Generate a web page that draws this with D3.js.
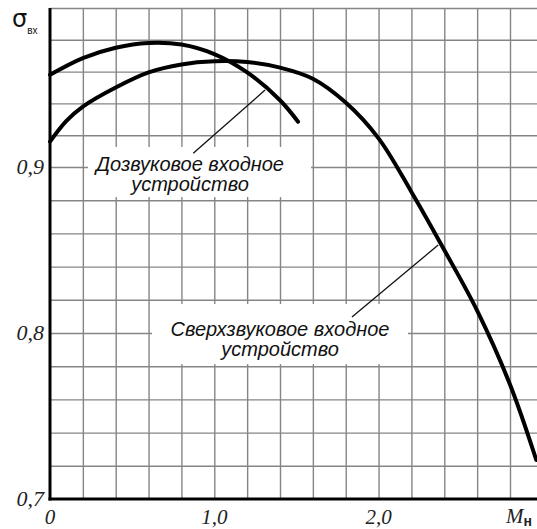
<!DOCTYPE html>
<html>
<head>
<meta charset="utf-8">
<script src="https://cdn.jsdelivr.net/npm/d3@7"></script>
<style>
  html, body { margin: 0; padding: 0; background: #fff; }
  svg { display: block; }
</style>
</head>
<body>
<script>
// ---- data ----
const machSuper  = [0, 0.1, 0.2, 0.4, 0.6, 0.8, 1.0, 1.2, 1.4, 1.6, 1.8, 2.0, 2.2, 2.4, 2.6, 2.8, 2.96];
const sigmaSuper = [0.916, 0.929, 0.938, 0.950, 0.9595, 0.9645, 0.9665, 0.966, 0.9625, 0.9555, 0.9405, 0.918, 0.885, 0.850, 0.8135, 0.769, 0.7235];

const machSub  = [0, 0.2, 0.4, 0.6, 0.8, 1.0, 1.2, 1.4, 1.51];
const sigmaSub = [0.958, 0.9685, 0.975, 0.978, 0.977, 0.971, 0.9595, 0.942, 0.9285];

const xGridValues = [0.2, 0.4, 0.6, 0.8, 1.0, 1.2, 1.4, 1.6, 1.8, 2.0, 2.2, 2.4, 2.6, 2.8, 3.0];
const yGridValues = [0.72, 0.74, 0.76, 0.78, 0.80, 0.82, 0.84, 0.86, 0.88, 0.90, 0.92, 0.94, 0.96, 0.98, 1.00];
const xTickValues = [0, 1, 2];
const xTickLabels = ["0", "1,0", "2,0"];
const yTickValues = [0.7, 0.8, 0.9];
const yTickLabels = ["0,7", "0,8", "0,9"];

const label1Lines = ["Дозвуковое входное", "устройство"];
const label2Lines = ["Сверхзвуковое входное", "устройство"];

// ---- layout ----
const W = 537, H = 529;
const x = d3.scaleLinear().domain([0, 2.8]).range([50, 510]);
const y = d3.scaleLinear().domain([0.7, 0.9, 1.0]).range([499, 167, 8]);
const xMaxPx = W;

const svg = d3.select("body").append("svg")
  .attr("width", W).attr("height", H)
  .attr("viewBox", `0 0 ${W} ${H}`);

svg.append("rect").attr("width", W).attr("height", H).attr("fill", "#fff");

// grid (vertical)
const gx = svg.append("g").attr("transform", `translate(0,${y(0.7)})`)
  .call(d3.axisBottom(x).tickValues(xGridValues).tickSize(-(y(0.7) - y(1.0))).tickFormat(""));
gx.select(".domain").remove();
gx.selectAll(".tick line").attr("stroke", "#858585").attr("stroke-width", 1.4);

// grid (horizontal)
const gy = svg.append("g").attr("transform", `translate(${x(0)},0)`)
  .call(d3.axisLeft(y).tickValues(yGridValues).tickSize(-(xMaxPx - x(0))).tickFormat(""));
gy.select(".domain").remove();
gy.selectAll(".tick line").attr("stroke", "#858585").attr("stroke-width", 1.4);

// label background boxes (data units)
const boxes = [
  { m0: 0.231, m1: 1.589, s0: 0.9126, s1: 0.8819 },
  { m0: 0.621, m1: 2.179, s0: 0.8175, s1: 0.7813 }
];
svg.selectAll("rect.box").data(boxes).enter().append("rect")
  .attr("class", "box")
  .attr("x", d => x(d.m0)).attr("width", d => x(d.m1) - x(d.m0))
  .attr("y", d => y(d.s0)).attr("height", d => y(d.s1) - y(d.s0))
  .attr("fill", "#fff");

// axes lines
svg.append("line")
  .attr("x1", x(0)).attr("x2", x(0)).attr("y1", y(1.0)).attr("y2", y(0.7) + 1.5)
  .attr("stroke", "#000").attr("stroke-width", 3);
svg.append("line")
  .attr("x1", x(0) - 1.5).attr("x2", xMaxPx).attr("y1", y(0.7)).attr("y2", y(0.7))
  .attr("stroke", "#000").attr("stroke-width", 3);

// curves
const line = d3.line().x(d => x(d[0])).y(d => y(d[1])).curve(d3.curveCatmullRom.alpha(0.5));
const superPts = machSuper.map((m, i) => [m, sigmaSuper[i]]);
const subPts = machSub.map((m, i) => [m, sigmaSub[i]]);

svg.append("path").attr("d", line(superPts))
  .attr("fill", "none").attr("stroke", "#000").attr("stroke-width", 4).attr("stroke-linecap", "round");
svg.append("path").attr("d", line(subPts))
  .attr("fill", "none").attr("stroke", "#000").attr("stroke-width", 4).attr("stroke-linecap", "round");

// leader lines
const leaders = [
  { m0: 0.872, s0: 0.9086, m1: 1.309, s1: 0.9484 },
  { m0: 1.838, s0: 0.8096, m1: 2.363, s1: 0.853 }
];
svg.selectAll("line.leader").data(leaders).enter().append("line")
  .attr("class", "leader")
  .attr("x1", d => x(d.m0)).attr("y1", d => y(d.s0))
  .attr("x2", d => x(d.m1)).attr("y2", d => y(d.s1))
  .attr("stroke", "#111").attr("stroke-width", 1.3);

// annotation text (one text element per line)
function addLabel(lines, m, s, gap) {
  lines.forEach((l, i) => {
    svg.append("text")
      .attr("x", x(m)).attr("y", y(s) + i * gap)
      .attr("text-anchor", "middle")
      .attr("font-family", "'Liberation Sans', Arial, sans-serif")
      .attr("font-style", "italic")
      .attr("font-size", 20)
      .attr("fill", "#111")
      .text(l);
  });
}
addLabel(label1Lines, 0.852, 0.8976, 20.5);
addLabel(label2Lines, 1.40, 0.798, 20);

// tick labels
const serif = "'Liberation Serif', 'Times New Roman', serif";
svg.selectAll("text.xt").data(xTickValues).enter().append("text")
  .attr("class", "xt")
  .attr("x", d => x(d)).attr("y", 524)
  .attr("text-anchor", "middle")
  .attr("font-family", serif).attr("font-style", "italic").attr("font-size", 21)
  .attr("fill", "#222")
  .text((d, i) => xTickLabels[i]);

svg.selectAll("text.yt").data(yTickValues).enter().append("text")
  .attr("class", "yt")
  .attr("x", x(0) - 6).attr("y", d => y(d))
  .attr("dy", "0.34em")
  .attr("text-anchor", "end")
  .attr("font-family", serif).attr("font-style", "italic").attr("font-size", 22)
  .attr("fill", "#222")
  .text((d, i) => yTickLabels[i]);

// axis titles
const mt = svg.append("text")
  .attr("x", 506).attr("y", 523)
  .attr("font-family", serif).attr("font-style", "italic").attr("font-size", 21)
  .attr("fill", "#222");
mt.append("tspan").text("M");
mt.append("tspan").attr("dy", 3)
  .attr("font-family", "'Liberation Sans', Arial, sans-serif")
  .attr("font-style", "normal").attr("font-weight", "bold").attr("font-size", 14)
  .text("н");

const st = svg.append("text")
  .attr("x", 12).attr("y", 27)
  .attr("font-family", "'DejaVu Sans', sans-serif")
  .attr("font-size", 24)
  .attr("fill", "#111");
st.append("tspan").text("σ");
st.append("tspan").attr("dy", 7)
  .attr("font-family", "'Liberation Sans', Arial, sans-serif")
  .attr("font-size", 10).text("вх");
</script>
</body>
</html>
